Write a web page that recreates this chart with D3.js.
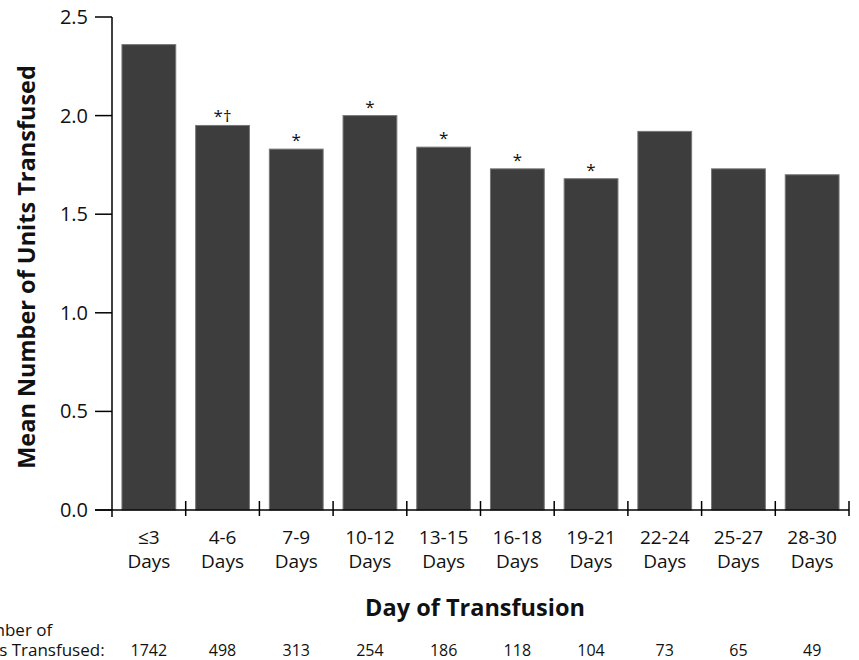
<!DOCTYPE html>
<html><head><meta charset="utf-8">
<script src="https://cdn.jsdelivr.net/npm/d3@7"></script>
<style>body{margin:0;background:#fff}svg{display:block}text{font-family:"Open Sans",sans-serif;fill:#111}</style>
</head><body><svg id="c" width="859" height="660"></svg>
<script>
const categories = ["≤3|Days","4-6|Days","7-9|Days","10-12|Days","13-15|Days","16-18|Days","19-21|Days","22-24|Days","25-27|Days","28-30|Days"];
const values = [2.36,1.95,1.83,2.00,1.84,1.73,1.68,1.92,1.73,1.70];
const marks = ["","*†","*","*","*","*","*","","",""];
const units = [1742,498,313,254,186,118,104,73,65,49];
const yTicks = [0,0.5,1.0,1.5,2.0,2.5];

const svg = d3.select("#c");
const x = d3.scaleBand().domain(categories).range([112,849]).paddingInner(0.27).paddingOuter(0.135);
const y = d3.scaleLinear().domain([0,2.5]).range([510,17]);

// bars
svg.append("g").selectAll("rect").data(values).join("rect")
  .attr("x",(d,i)=>x(categories[i])).attr("width",x.bandwidth())
  .attr("y",d=>y(d)).attr("height",d=>y(0)-y(d))
  .attr("fill","#3d3d3d").attr("stroke","#777").attr("stroke-width",1);

// significance marks
svg.append("g").selectAll("text").data(marks).join("text")
  .attr("x",(d,i)=>x(categories[i])+x.bandwidth()/2)
  .attr("y",(d,i)=>y(values[i])-3)
  .attr("text-anchor","middle").attr("font-size",17).text(d=>d);

// y axis
const yg = svg.append("g");
yg.append("line").attr("x1",112).attr("x2",112).attr("y1",y(2.5)).attr("y2",517).attr("stroke","#000").attr("stroke-width",1.5);
yTicks.forEach(t=>{
  yg.append("line").attr("x1",95).attr("x2",112).attr("y1",y(t)).attr("y2",y(t)).attr("stroke","#000").attr("stroke-width",1.5);
  yg.append("text").attr("x",88).attr("y",y(t)+7).attr("text-anchor","end").attr("font-size",20).text(t.toFixed(1));
});

// x axis
const xg = svg.append("g");
xg.append("line").attr("x1",95).attr("x2",849).attr("y1",510).attr("y2",510).attr("stroke","#000").attr("stroke-width",1.5);
const step = x.step();
const tickXs = categories.map(c=>x(c)+x.bandwidth()/2 - step/2);
tickXs.push(x(categories[categories.length-1])+x.bandwidth()/2+step/2);
tickXs.forEach((tx,i)=>{
  if(i===0) return;
  xg.append("line").attr("x1",tx).attr("x2",tx).attr("y1",501).attr("y2",516).attr("stroke","#000").attr("stroke-width",1.5);
});
categories.forEach((c,i)=>{
  const cx = x(c)+x.bandwidth()/2;
  const parts = c.split("|");
  const t = xg.append("text").attr("text-anchor","middle").attr("font-size",19);
  t.append("tspan").attr("x",cx).attr("y",544).text(parts[0]);
  t.append("tspan").attr("x",cx).attr("y",568).text(parts[1]);
  svg.append("text").attr("x",cx).attr("y",656).attr("text-anchor","middle").attr("font-size",16).text(units[i]);
});

// titles
svg.append("text").attr("transform","translate(35,267) rotate(-90)").attr("text-anchor","middle")
  .attr("font-size",23.5).attr("font-weight","bold").text("Mean Number of Units Transfused");
svg.append("text").attr("x",475).attr("y",616).attr("text-anchor","middle")
  .attr("font-size",23.5).attr("font-weight","bold").text("Day of Transfusion");
const lt = svg.append("text").attr("text-anchor","start").attr("font-size",17);
lt.append("tspan").attr("x",-34).attr("y",636).text("Number of");
lt.append("tspan").attr("x",-34).attr("y",656).text("Units Transfused:");
</script></body></html>
